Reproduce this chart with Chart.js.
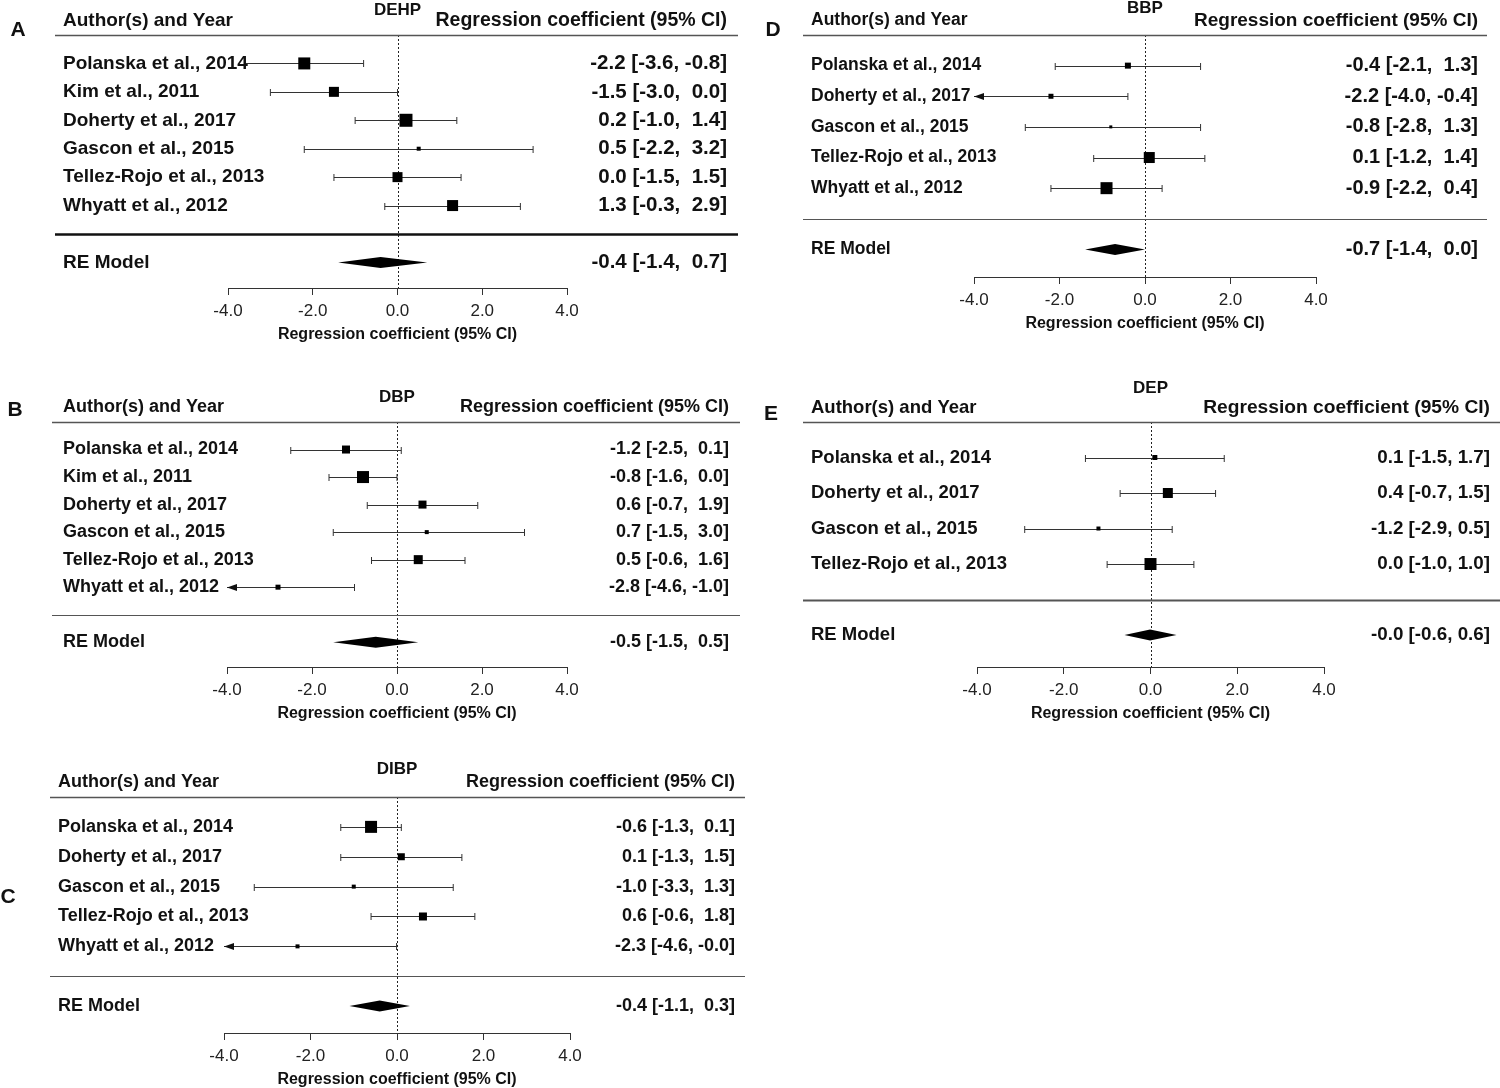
<!DOCTYPE html>
<html>
<head>
<meta charset="utf-8">
<script src="https://cdn.jsdelivr.net/npm/chart.js@4.4.1/dist/chart.umd.min.js"></script>
<style>
  html, body { margin: 0; padding: 0; background: #fff; }
  #wrap { position: relative; width: 1500px; height: 1088px; }
  #wrap canvas { position: absolute; left: 0; top: 0; }
</style>
</head>
<body>
<div id="wrap">
  <canvas id="cA" width="1500" height="1088"></canvas>
  <canvas id="cB" width="1500" height="1088"></canvas>
  <canvas id="cC" width="1500" height="1088"></canvas>
  <canvas id="cD" width="1500" height="1088"></canvas>
  <canvas id="cE" width="1500" height="1088"></canvas>
</div>
<script>
// --- DATA ---

// A - DEHP
const studiesA = ['Polanska et al., 2014', 'Kim et al., 2011', 'Doherty et al., 2017', 'Gascon et al., 2015', 'Tellez-Rojo et al., 2013', 'Whyatt et al., 2012'];
const estA  = [-2.2, -1.5, 0.2, 0.5, 0.0, 1.3];
const lowA  = [-3.6, -3.0, -1.0, -2.2, -1.5, -0.3];
const highA = [-0.8, 0.0, 1.4, 3.2, 1.5, 2.9];
const weightA = [12, 10, 13, 4, 10, 11];
const reA = [-0.4, -1.4, 0.7];

// B - DBP
const studiesB = ['Polanska et al., 2014', 'Kim et al., 2011', 'Doherty et al., 2017', 'Gascon et al., 2015', 'Tellez-Rojo et al., 2013', 'Whyatt et al., 2012'];
const estB  = [-1.2, -0.8, 0.6, 0.7, 0.5, -2.8];
const lowB  = [-2.5, -1.6, -0.7, -1.5, -0.6, -4.6];
const highB = [0.1, 0.0, 1.9, 3.0, 1.6, -1.0];
const weightB = [8, 12, 8, 4, 9, 5];
const reB = [-0.5, -1.5, 0.5];

// C - DIBP
const studiesC = ['Polanska et al., 2014', 'Doherty et al., 2017', 'Gascon et al., 2015', 'Tellez-Rojo et al., 2013', 'Whyatt et al., 2012'];
const estC  = [-0.6, 0.1, -1.0, 0.6, -2.3];
const lowC  = [-1.3, -1.3, -3.3, -0.6, -4.6];
const highC = [0.1, 1.5, 1.3, 1.8, -0.01];
const weightC = [12, 7, 4, 8, 4];
const reC = [-0.4, -1.1, 0.3];

// D - BBP
const studiesD = ['Polanska et al., 2014', 'Doherty et al., 2017', 'Gascon et al., 2015', 'Tellez-Rojo et al., 2013', 'Whyatt et al., 2012'];
const estD  = [-0.4, -2.2, -0.8, 0.1, -0.9];
const lowD  = [-2.1, -4.04, -2.8, -1.2, -2.2];
const highD = [1.3, -0.4, 1.3, 1.4, 0.4];
const weightD = [6, 5, 3, 11, 12];
const reD = [-0.7, -1.4, 0.0];

// E - DEP
const studiesE = ['Polanska et al., 2014', 'Doherty et al., 2017', 'Gascon et al., 2015', 'Tellez-Rojo et al., 2013'];
const estE  = [0.1, 0.4, -1.2, 0.0];
const lowE  = [-1.5, -0.7, -2.9, -1.0];
const highE = [1.7, 1.5, 0.5, 1.0];
const weightE = [5, 10, 4, 12];
const reE = [-0.01, -0.6, 0.6];

const xTicks = [-4, -2, 0, 2, 4];

// --- LAYOUT ---
const FONT = "'Liberation Sans', Arial, sans-serif";
const AXIS_TITLE = 'Regression coefficient (95% CI)';
const AXIS_H = 56;

const PANELS = [
  { id: 'cA', letter: 'A', title: 'DEHP', studies: studiesA, est: estA, low: lowA, high: highA, w: weightA, re: reA,
    g: { x0: 228, x1: 567, top: 35, axis: 288, labelX: 63, textR: 727, lineL: 55, lineR: 738, titleY: 8, fs: 19, fsR: 20.5, fsH: 19.5, lx: 18, ly: 30, sepW: 2.5 } },
  { id: 'cB', letter: 'B', title: 'DBP', studies: studiesB, est: estB, low: lowB, high: highB, w: weightB, re: reB,
    g: { x0: 227, x1: 567, top: 422, axis: 667, labelX: 63, textR: 729, lineL: 52, lineR: 740, titleY: 395, fs: 18, fsR: 18, fsH: 18, lx: 15, ly: 410, sepW: 1.2 } },
  { id: 'cC', letter: 'C', title: 'DIBP', studies: studiesC, est: estC, low: lowC, high: highC, w: weightC, re: reC,
    g: { x0: 224, x1: 570, top: 797, axis: 1033, labelX: 58, textR: 735, lineL: 50, lineR: 745, titleY: 767, fs: 18, fsR: 18, fsH: 18, lx: 8, ly: 897, sepW: 1.2 } },
  { id: 'cD', letter: 'D', title: 'BBP', studies: studiesD, est: estD, low: lowD, high: highD, w: weightD, re: reD,
    g: { x0: 974, x1: 1316, top: 35, axis: 277, labelX: 811, textR: 1478, lineL: 803, lineR: 1487, titleY: 6, fs: 17.5, fsR: 20, fsH: 19, lx: 773, ly: 30, sepW: 1.2 } },
  { id: 'cE', letter: 'E', title: 'DEP', studies: studiesE, est: estE, low: lowE, high: highE, w: weightE, re: reE,
    g: { x0: 977, x1: 1324, top: 422, axis: 667, labelX: 811, textR: 1490, lineL: 803, lineR: 1500, titleY: 386, fs: 18.5, fsR: 18.8, fsH: 19.2, lx: 771, ly: 414, sepW: 1.8 } }
];

// Helper: pads a column of numbers to the same width (metafor style)
function fmtCol(vals) {
  const s = vals.map(v => v.toFixed(1));
  const w = Math.max(...s.map(t => t.length));
  return s.map(t => t.padStart(w, ' '));
}

// Plugin: whiskers, RE diamond, reference line, text columns
function makeForest(p) {
  const g = p.g;
  const k = p.studies.length;
  const estS = fmtCol(p.est.concat([p.re[0]]));
  const lowS = fmtCol(p.low.concat([p.re[1]]));
  const highS = fmtCol(p.high.concat([p.re[2]]));
  const ciText = estS.map((e, i) => `${e.trim()} [${lowS[i]}, ${highS[i]}]`);

  return {
    id: 'forest' + p.letter,
    beforeDatasetsDraw(chart) {
      const { ctx, chartArea } = chart;
      const x = chart.scales.x, y = chart.scales.y;
      ctx.save();

      // vertical dotted line at 0
      const zx = Math.round(x.getPixelForValue(0)) + 0.5;
      ctx.strokeStyle = '#222';
      ctx.lineWidth = 1;
      ctx.setLineDash([2, 2]);
      ctx.beginPath();
      ctx.moveTo(zx, chartArea.top);
      ctx.lineTo(zx, chartArea.bottom);
      ctx.stroke();
      ctx.setLineDash([]);

      // confidence intervals
      ctx.strokeStyle = '#333';
      ctx.fillStyle = '#111';
      p.est.forEach((e, i) => {
        const py = Math.round(y.getPixelForValue(k - i)) + 0.5;
        const xl = x.getPixelForValue(Math.max(p.low[i], x.min));
        const xr = x.getPixelForValue(Math.min(p.high[i], x.max));
        ctx.beginPath();
        ctx.moveTo(xl, py);
        ctx.lineTo(xr, py);
        if (p.low[i] >= x.min) { ctx.moveTo(xl, py - 3.5); ctx.lineTo(xl, py + 3.5); }
        if (p.high[i] <= x.max) { ctx.moveTo(xr, py - 3.5); ctx.lineTo(xr, py + 3.5); }
        ctx.stroke();
        if (p.low[i] < x.min) {
          ctx.beginPath();
          ctx.moveTo(xl, py);
          ctx.lineTo(xl + 10, py - 3.5);
          ctx.lineTo(xl + 10, py + 3.5);
          ctx.closePath();
          ctx.fill();
        }
      });

      // RE model diamond
      const ry = y.getPixelForValue(-1);
      ctx.fillStyle = '#000';
      ctx.beginPath();
      ctx.moveTo(x.getPixelForValue(p.re[1]), ry);
      ctx.lineTo(x.getPixelForValue(p.re[0]), ry - 5.5);
      ctx.lineTo(x.getPixelForValue(p.re[2]), ry);
      ctx.lineTo(x.getPixelForValue(p.re[0]), ry + 5.5);
      ctx.closePath();
      ctx.fill();
      ctx.restore();
    },
    afterDraw(chart) {
      const { ctx } = chart;
      const x = chart.scales.x, y = chart.scales.y;
      ctx.save();

      // header and separator lines
      const hy = Math.round(y.getPixelForValue(k + 1)) + 0.5;
      const sy = Math.round(y.getPixelForValue(0)) + 0.5;
      ctx.strokeStyle = '#555';
      ctx.lineWidth = 1.5;
      ctx.beginPath(); ctx.moveTo(g.lineL, hy); ctx.lineTo(g.lineR, hy); ctx.stroke();
      ctx.strokeStyle = g.sepW > 2 ? '#111' : '#555';
      ctx.lineWidth = g.sepW;
      ctx.beginPath(); ctx.moveTo(g.lineL, sy); ctx.lineTo(g.lineR, sy); ctx.stroke();

      ctx.fillStyle = '#111';
      ctx.textBaseline = 'middle';
      const fontL = `bold ${g.fs}px ${FONT}`;
      const fontR = `bold ${g.fsR}px ${FONT}`;

      // headers
      ctx.font = fontL;
      ctx.textAlign = 'left';
      ctx.fillText('Author(s) and Year', g.labelX, hy - 15);
      ctx.font = `bold ${g.fsH}px ${FONT}`;
      ctx.textAlign = 'right';
      ctx.fillText('Regression coefficient (95% CI)', g.textR, hy - 15);

      // rows
      p.studies.forEach((s, i) => {
        const py = y.getPixelForValue(k - i);
        ctx.font = fontL;
        ctx.textAlign = 'left';
        ctx.fillText(s, g.labelX, py);
        ctx.font = fontR;
        ctx.textAlign = 'right';
        ctx.fillText(ciText[i], g.textR, py);
      });
      const ry = y.getPixelForValue(-1);
      ctx.font = fontL;
      ctx.textAlign = 'left';
      ctx.fillText('RE Model', g.labelX, ry);
      ctx.font = fontR;
      ctx.textAlign = 'right';
      ctx.fillText(ciText[k], g.textR, ry);

      // compound title and panel letter
      ctx.textAlign = 'center';
      ctx.font = `bold 17px ${FONT}`;
      ctx.fillText(p.title, x.getPixelForValue(0), g.titleY + 2);
      ctx.font = `bold 21px ${FONT}`;
      ctx.fillText(p.letter, g.lx, g.ly);
      ctx.restore();
    }
  };
}

function buildChart(p) {
  const k = p.studies.length;
  const g = p.g;
  new Chart(document.getElementById(p.id), {
    type: 'scatter',
    data: {
      datasets: [{
        data: p.est.map((e, i) => ({ x: e, y: k - i })),
        pointStyle: 'rect',
        pointRadius: p.w.map(s => s / 1.414),
        backgroundColor: '#000',
        borderWidth: 0
      }]
    },
    options: {
      responsive: false,
      animation: false,
      events: [],
      layout: { padding: { left: g.x0, right: 1500 - g.x1, top: g.top, bottom: 1088 - g.axis - AXIS_H } },
      plugins: { legend: { display: false }, tooltip: { enabled: false } },
      scales: {
        x: {
          type: 'linear', min: -4, max: 4,
          afterBuildTicks: s => { s.ticks = xTicks.map(v => ({ value: v })); },
          afterFit: s => { s.height = AXIS_H; },
          ticks: { callback: v => v.toFixed(1), color: '#222', padding: 6, maxRotation: 0, autoSkip: false,
                   font: { family: FONT, size: 17 } },
          grid: { drawOnChartArea: false, drawTicks: true, tickLength: 7, color: '#333' },
          border: { display: true, color: '#333', width: 1 },
          title: { display: true, text: AXIS_TITLE, color: '#111', padding: 0,
                   font: { family: FONT, size: 16, weight: 'bold' } }
        },
        y: { display: false, min: -1.9, max: k + 1 }
      }
    },
    plugins: [makeForest(p)]
  });
}

PANELS.forEach(buildChart);
</script>
</body>
</html>
